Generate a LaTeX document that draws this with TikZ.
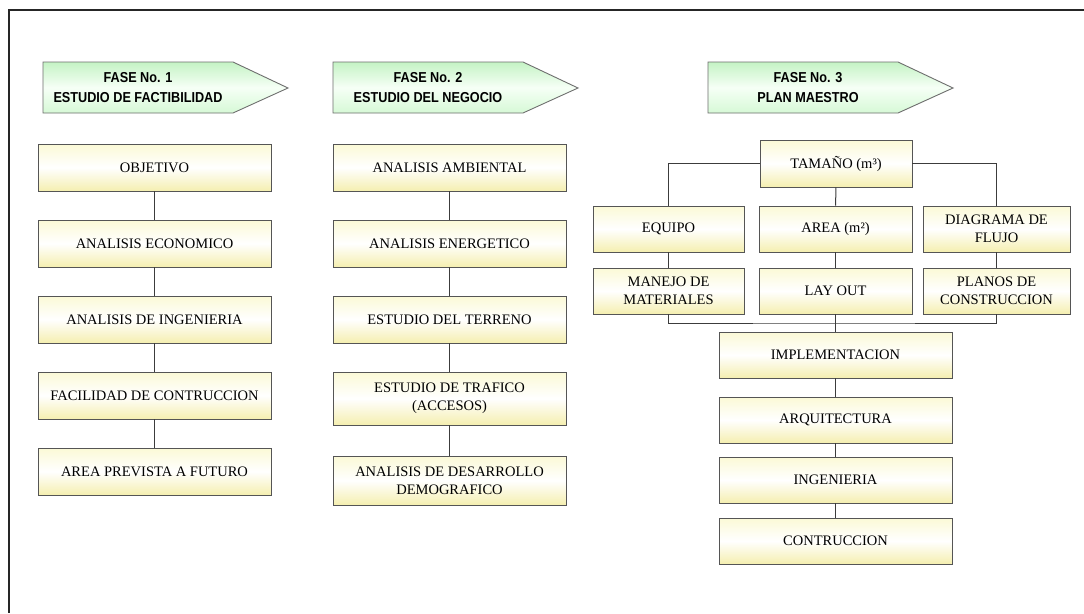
\documentclass[tikz,border=0pt]{standalone}
\usepackage{fontspec}
\setmainfont{Liberation Serif}
\newfontfamily\headfont[FakeStretch=0.88]{Liberation Sans}
\definecolor{boxtop}{RGB}{251,249,214}
\definecolor{boxbot}{RGB}{245,239,176}
\definecolor{boxline}{RGB}{85,85,85}
\definecolor{linkc}{RGB}{60,60,60}
\definecolor{fasetop}{RGB}{196,243,196}
\definecolor{fasemid}{RGB}{246,255,246}
\definecolor{fasebot}{RGB}{214,249,214}
\definecolor{faseline}{RGB}{110,110,110}
\begin{document}
\begin{tikzpicture}[x=1pt,y=-1pt,
  box/.style={draw=boxline, line width=0.9pt, top color=boxtop, bottom color=boxbot,
    middle color=white, minimum width=233pt, minimum height=47pt, inner sep=0pt,
    align=center, font=\fontsize{14.5}{18}\selectfont},
  link/.style={draw=linkc, line width=1pt},
  fase/.style={draw=faseline, line width=0.9pt, top color=fasetop, bottom color=fasebot,
    middle color=fasemid},
  fasetext/.style={align=center, inner sep=0pt, font=\headfont\bfseries\fontsize{14.4}{20}\selectfont}]
\useasboundingbox (0,0) rectangle (1084,613);
\fill[white] (0,0) rectangle (1084,613);
% outer frame (top and left edges)
\draw[line width=2pt, black!85] (1084,10) -- (9,10) -- (9,613);

% phase banners
\path[fase] (43,62) -- (233,62) -- (288,88) -- (233,113) -- (43,113) -- cycle;
\node[fasetext] (f1) at (138,88) {FASE No. 1\\ESTUDIO DE FACTIBILIDAD};
\path[fase] (333,62) -- (523,62) -- (578,88) -- (523,113) -- (333,113) -- cycle;
\node[fasetext] (f2) at (428,88) {FASE No. 2\\ESTUDIO DEL NEGOCIO};
\path[fase] (708,62) -- (898,62) -- (953,88) -- (898,113) -- (708,113) -- cycle;
\node[fasetext] (f3) at (808,88) {FASE No. 3\\PLAN MAESTRO};

% phase 1 column
\node[box] (a1) at (154.5,167.5) {OBJETIVO};
\node[box] (a2) at (154.5,243.5) {ANALISIS ECONOMICO};
\node[box] (a3) at (154.5,319.5) {ANALISIS DE INGENIERIA};
\node[box] (a4) at (154.5,395.5) {FACILIDAD DE CONTRUCCION};
\node[box] (a5) at (154.5,471.5) {AREA PREVISTA A FUTURO};
\draw[link] (a1) -- (a2) (a2) -- (a3) (a3) -- (a4) (a4) -- (a5);

% phase 2 column
\node[box] (b1) at (449.5,167.5) {ANALISIS AMBIENTAL};
\node[box] (b2) at (449.5,243.5) {ANALISIS ENERGETICO};
\node[box] (b3) at (449.5,319.5) {ESTUDIO DEL TERRENO};
\node[box, minimum height=53pt] (b4) at (449.5,398.5) {ESTUDIO DE TRAFICO\\(ACCESOS)};
\node[box, minimum height=49pt] (b5) at (449.5,480.5) {ANALISIS DE DESARROLLO\\DEMOGRAFICO};
\draw[link] (b1) -- (b2) (b2) -- (b3) (b3) -- (b4) (b4) -- (b5);

% phase 3 tree
\node[box, minimum width=152pt] (tam) at (836,163.5) {TAMAÑO (m³)};
\node[box, minimum width=151pt, minimum height=46pt] (equ) at (668.5,229) {EQUIPO};
\node[box, minimum width=153pt, minimum height=46pt] (are) at (835.5,229) {AREA (m²)};
\node[box, minimum width=147pt, minimum height=46pt] (dia) at (996.5,229) {DIAGRAMA DE\\FLUJO};
\node[box, minimum width=151pt, minimum height=46pt] (man) at (668.5,291) {MANEJO DE\\MATERIALES};
\node[box, minimum width=153pt, minimum height=46pt] (lay) at (835.5,291) {LAY OUT};
\node[box, minimum width=147pt, minimum height=46pt] (pla) at (996.5,291) {PLANOS DE\\CONSTRUCCION};
\node[box, minimum height=46pt] (imp) at (835.5,355) {IMPLEMENTACION};
\node[box, minimum height=46pt] (arq) at (835.5,420) {ARQUITECTURA};
\node[box, minimum height=46pt] (ing) at (835.5,480) {INGENIERIA};
\node[box, minimum height=46pt] (con) at (835.5,541) {CONTRUCCION};
\coordinate (bus) at (835.5,323);
\draw[link] (tam.west) -| (equ.north);
\draw[link] (tam.east) -| (dia.north);
\draw[link] (tam) -- (are);
\draw[link] (equ) -- (man) (are) -- (lay) (dia) -- (pla);
\draw[link] (man.south) |- (bus) -| (pla.south);
\draw[link] (lay) -- (imp);
\draw[link] (imp) -- (arq) (arq) -- (ing) (ing) -- (con);
\end{tikzpicture}
\end{document}
